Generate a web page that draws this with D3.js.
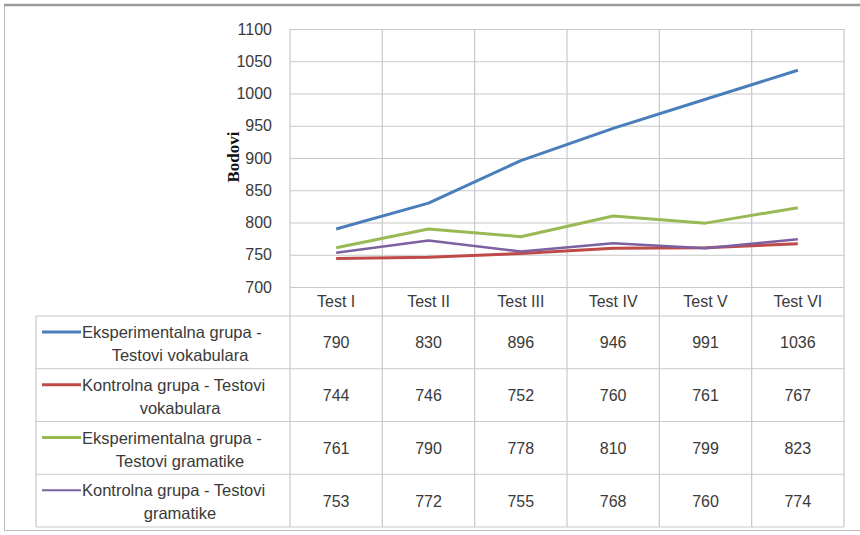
<!DOCTYPE html>
<html lang="en">
<head>
  <meta charset="UTF-8" />
  <title>Bodovi</title>
  <script src="https://d3js.org/d3.v7.min.js"></script>
  <style>
    html, body { margin: 0; padding: 0; background: #fff; }
    svg { display: block; font-family: "Liberation Sans", sans-serif; }
    .grid line { stroke: #c8c8c8; stroke-width: 1.2px; }
    .tick text { fill: #3a3a3a; }
    .cell-text { fill: #3a3a3a; font-size: 16px; }
  </style>
</head>
<body>
  <svg id="chart" width="860" height="535"></svg>
  <script>
    const categories = ['Test I', 'Test II', 'Test III', 'Test IV', 'Test V', 'Test VI'];
    const seriesNames = [
      ['Eksperimentalna grupa -', 'Testovi vokabulara'],
      ['Kontrolna grupa - Testovi', 'vokabulara'],
      ['Eksperimentalna grupa -', 'Testovi gramatike'],
      ['Kontrolna grupa - Testovi', 'gramatike']
    ];
    const expVocab  = [790, 830, 896, 946, 991, 1036];
    const ctrlVocab = [744, 746, 752, 760, 761, 767];
    const expGram   = [761, 790, 778, 810, 799, 823];
    const ctrlGram  = [753, 772, 755, 768, 760, 774];
    const yTicks = [700, 750, 800, 850, 900, 950, 1000, 1050, 1100];
    const colors = ['#4a7ebb', '#be4b48', '#98b954', '#7d60a0'];

    const series = [expVocab, ctrlVocab, expGram, ctrlGram];
    const svg = d3.select('#chart');

    // outer frame
    svg.append('rect').attr('x', 4.5).attr('y', 4.5).attr('width', 870).attr('height', 526)
      .attr('fill', 'none').attr('stroke', '#bdbdbd').attr('stroke-width', 1);
    svg.append('line').attr('x1', 4).attr('x2', 860).attr('y1', 5).attr('y2', 5)
      .attr('stroke', '#9a9a9a').attr('stroke-width', 2.5);

    const plotL = 290, plotR = 844, plotT = 29, plotB = 287;
    const tableTop = 316, tableLeft = 36, tableBottom = 527;

    const x = d3.scaleBand().domain(categories).range([plotL, plotR]);
    const y = d3.scaleLinear().domain([700, 1100]).range([plotB, plotT]);

    // horizontal gridlines + y tick labels
    const yAxis = svg.append('g').attr('class', 'grid')
      .attr('transform', `translate(${plotL},0)`)
      .call(d3.axisLeft(y).tickValues(yTicks).tickSize(-(plotR - plotL)).tickPadding(18).tickFormat(d3.format('d')));
    yAxis.select('.domain').remove();
    yAxis.selectAll('.tick text').style('font-size', '16px');

    // vertical column lines through plot and table
    const bounds = categories.map(c => x(c)).concat([plotR]);
    svg.append('g').selectAll('line').data(bounds).join('line')
      .attr('x1', d => d).attr('x2', d => d).attr('y1', plotT).attr('y2', tableBottom)
      .attr('stroke', '#c8c8c8').attr('stroke-width', 1.2);

    // table horizontal lines
    const rowH = (tableBottom - tableTop) / series.length;
    const rowLines = d3.range(series.length + 1).map(i => tableTop + i * rowH);
    svg.append('g').selectAll('line').data(rowLines).join('line')
      .attr('x1', tableLeft).attr('x2', plotR).attr('y1', d => d).attr('y2', d => d)
      .attr('stroke', '#c8c8c8').attr('stroke-width', 1.2);
    svg.append('line').attr('x1', tableLeft).attr('x2', tableLeft).attr('y1', tableTop).attr('y2', tableBottom)
      .attr('stroke', '#c8c8c8').attr('stroke-width', 1.2);

    // category labels
    svg.append('g').selectAll('text').data(categories).join('text')
      .attr('class', 'cell-text').attr('x', d => x(d) + x.bandwidth() / 2).attr('y', 307)
      .attr('text-anchor', 'middle').text(d => d);

    // y axis title
    svg.append('text').attr('transform', 'translate(239,157) rotate(-90)')
      .attr('text-anchor', 'middle').attr('font-family', '"Liberation Serif", serif')
      .attr('font-weight', 'bold').attr('font-size', 17).attr('fill', '#111').text('Bodovi');

    // lines
    const line = d3.line().x((d, i) => x(categories[i]) + x.bandwidth() / 2).y(d => y(d));
    svg.append('g').selectAll('path').data(series).join('path')
      .attr('d', line).attr('fill', 'none')
      .attr('stroke', (d, i) => colors[i]).attr('stroke-width', (d, i) => i === 3 ? 2.5 : 3)
      .attr('stroke-linejoin', 'round');

    // table rows
    series.forEach((vals, i) => {
      const ry = tableTop + i * rowH;
      const g = svg.append('g');
      g.append('line').attr('x1', 42).attr('x2', 81).attr('y1', ry + 16).attr('y2', ry + 16)
        .attr('stroke', colors[i]).attr('stroke-width', i === 3 ? 2 : 3);
      g.append('text').attr('class', 'cell-text').attr('x', 82).attr('y', ry + 22)
        .style('font-size', '16.5px').text(seriesNames[i][0]);
      g.append('text').attr('class', 'cell-text').attr('x', 180).attr('y', ry + 45)
        .attr('text-anchor', 'middle').style('font-size', '16.5px').text(seriesNames[i][1]);
      g.selectAll('text.val').data(vals).join('text').attr('class', 'cell-text val')
        .attr('x', (d, j) => x(categories[j]) + x.bandwidth() / 2).attr('y', ry + rowH / 2 + 6)
        .attr('text-anchor', 'middle').text(d => d);
    });
  </script>
</body>
</html>
